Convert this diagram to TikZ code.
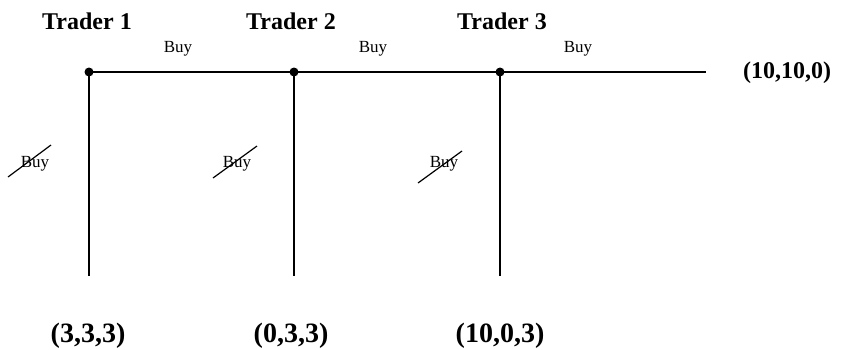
\documentclass[tikz,border=0pt]{standalone}
\usepackage{fontspec}
\setmainfont{Liberation Serif}
\begin{document}
\begin{tikzpicture}[x=1pt,y=-1pt,
  ln/.style={line width=1.3pt},
  dot/.style={circle,fill=black,inner sep=0pt,minimum size=9pt},
  trader/.style={font=\fontsize{24}{28}\selectfont\bfseries},
  payoff/.style={font=\fontsize{24}{28}\selectfont\bfseries},
  leaf/.style={font=\fontsize{28}{32}\selectfont\bfseries},
  act/.style={font=\fontsize{17}{20}\selectfont},
  strike/.style={line width=1.2pt}]
\useasboundingbox (0,0) rectangle (848,349);
\node[dot] (d1) at (89,72) {};
\node[dot] (d2) at (294,72) {};
\node[dot] (d3) at (500,72) {};
\coordinate (e) at (706,72);
\coordinate (b1) at (89,276);
\coordinate (b2) at (294,276);
\coordinate (b3) at (500,276);
\draw[ln] (d1.center) -- (d2.center) -- (d3.center) -- (e);
\draw[ln] (d1.center) -- (b1);
\draw[ln] (d2.center) -- (b2);
\draw[ln] (d3.center) -- (b3);
\node[trader] (t1) at (87,21) {Trader 1};
\node[trader] (t2) at (291,21) {Trader 2};
\node[trader] (t3) at (502,21) {Trader 3};
\node[act] (a1) at (178,49) {Buy};
\node[act] (a2) at (373,49) {Buy};
\node[act] (a3) at (578,49) {Buy};
\node[payoff] (p0) at (787,73) {(10,10,0)};
\node[act] (n1) at (35,164) {Buy};
\node[act] (n2) at (237,164) {Buy};
\node[act] (n3) at (444,164) {Buy};
\coordinate (s1a) at (8,177); \coordinate (s1b) at (51,145);
\coordinate (s2a) at (213,178); \coordinate (s2b) at (257,146);
\coordinate (s3a) at (418,183); \coordinate (s3b) at (462,151);
\draw[strike] (s1a) -- (s1b);
\draw[strike] (s2a) -- (s2b);
\draw[strike] (s3a) -- (s3b);
\node[leaf] (p1) at (88,336) {(3,3,3)};
\node[leaf] (p2) at (291,336) {(0,3,3)};
\node[leaf] (p3) at (500,336) {(10,0,3)};
\end{tikzpicture}
\end{document}
